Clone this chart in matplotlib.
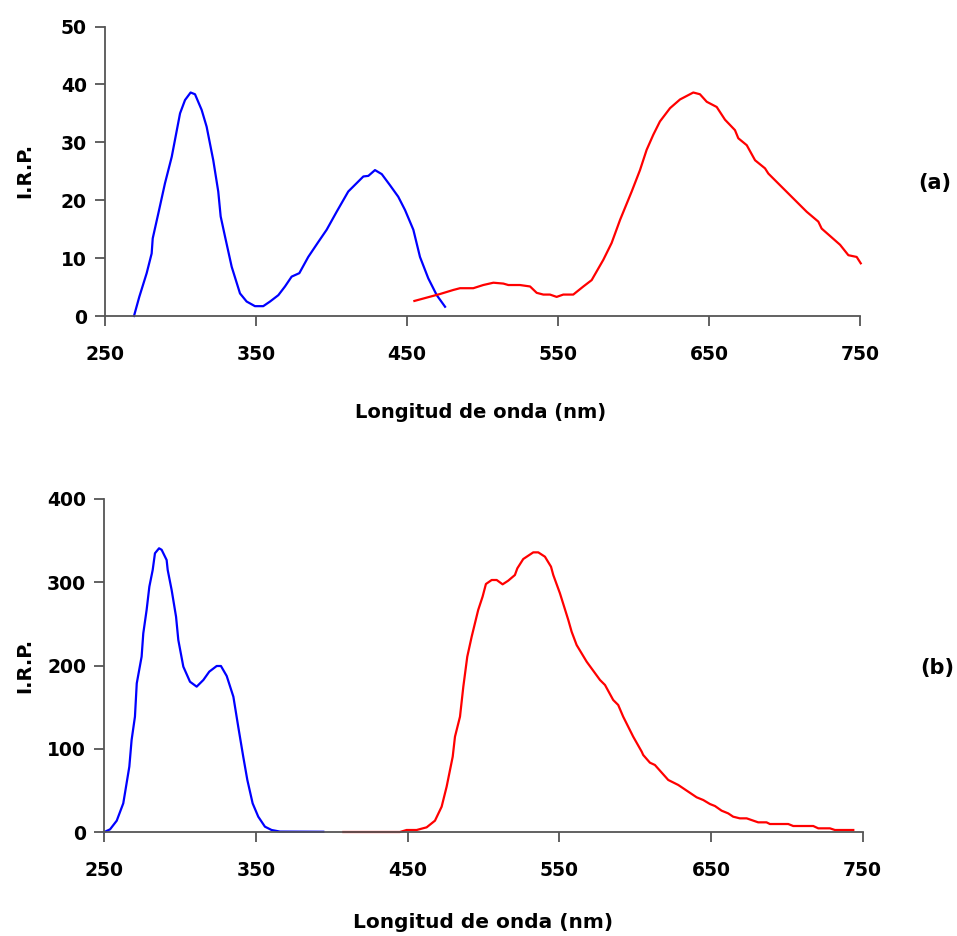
import matplotlib
matplotlib.use("Agg")
import matplotlib.pyplot as plt

# ---- Panel (a) data ----
a_blue_x = [269.2, 272.7, 277.6, 280.9, 281.6, 285.3, 289.7, 294.2, 299.7, 303.0, 306.7, 309.6,
            314.0, 317.3, 321.7, 325.0, 326.6, 329.5, 333.9, 339.4, 343.8, 349.3, 354.8, 359.3,
            364.8, 369.2, 373.6, 378.7, 384.6, 391.3, 396.8, 403.4, 411.1, 421.1, 424.4, 428.8,
            433.3, 438.7, 444.2, 448.7, 454.2, 458.6, 464.1, 469.7, 475.2]
a_blue_y = [0.0, 3.3, 7.4, 10.8, 13.4, 17.7, 22.9, 27.5, 35.0, 37.3, 38.6, 38.3,
            35.6, 32.7, 26.9, 21.5, 17.2, 13.7, 8.5, 3.9, 2.5, 1.7, 1.7, 2.5,
            3.6, 5.1, 6.8, 7.4, 10.2, 12.8, 14.9, 18.0, 21.5, 24.1, 24.2, 25.2,
            24.5, 22.6, 20.6, 18.3, 14.9, 10.2, 6.5, 3.6, 1.6]

a_red_x = [454.9, 471.9, 480.7, 485.1, 493.9, 500.5, 507.2, 513.8, 517.1, 524.8, 531.5, 535.9,
           540.3, 544.7, 549.1, 553.5, 560.1, 566.8, 572.3, 580.0, 585.5, 591.1, 598.8, 604.3,
           608.7, 613.1, 617.5, 624.2, 630.8, 639.6, 644.0, 648.5, 655.1, 660.6, 667.2, 669.4,
           675.0, 680.5, 687.1, 689.3, 714.7, 722.4, 724.6, 736.8, 742.3, 747.8, 750.5]
a_red_y = [2.6, 3.8, 4.5, 4.8, 4.8, 5.35, 5.75, 5.6, 5.35, 5.35, 5.1, 4.0,
           3.7, 3.7, 3.3, 3.7, 3.7, 5.1, 6.2, 9.7, 12.6, 16.6, 21.5, 25.2,
           28.7, 31.3, 33.6, 35.9, 37.4, 38.6, 38.3, 37.0, 36.1, 33.9, 32.1, 30.7,
           29.5, 26.9, 25.5, 24.6, 18.0, 16.3, 15.1, 12.3, 10.5, 10.2, 9.1]

# ---- Panel (b) data ----
b_blue_x = [250.0, 253.8, 258.2, 262.5, 263.6, 266.5, 268.0, 270.2, 271.4, 274.6, 275.7, 277.9,
            279.7, 281.9, 283.4, 286.1, 287.8, 291.1, 291.8, 294.4, 297.3, 298.8, 302.1, 306.5,
            310.9, 315.3, 319.2, 324.1, 326.9, 330.7, 335.1, 338.3, 341.6, 344.3, 347.8, 351.5,
            355.9, 360.3, 365.8, 394.4]
b_blue_y = [0.0, 3.2, 13.6, 34.4, 46.4, 78.5, 110.5, 138.5, 178.6, 210.6, 238.6, 266.7,
            294.7, 314.7, 334.8, 340.8, 339.0, 326.7, 314.7, 290.7, 258.6, 230.6, 198.6, 180.5,
            174.6, 182.6, 192.6, 199.4, 199.4, 187.4, 162.5, 126.5, 90.5, 62.5, 34.4, 18.4,
            6.4, 2.4, 0.5, 0.3]

b_red_x = [407.6, 444.9, 449.3, 455.9, 462.5, 468.0, 472.4, 475.7, 479.7, 481.2, 484.5, 486.7,
           489.3, 492.2, 496.5, 499.4, 501.6, 505.4, 508.7, 512.6, 516.3, 520.7, 522.3, 526.2,
           532.8, 536.1, 540.5, 544.5, 546.0, 550.4, 555.9, 558.1, 561.4, 568.0, 576.8, 580.1,
           585.5, 588.8, 592.1, 598.7, 604.3, 605.3, 609.7, 613.0, 621.8, 628.4, 640.5, 644.9,
           649.3, 652.6, 657.0, 661.3, 664.6, 669.0, 673.5, 681.1, 686.6, 688.8, 700.9, 704.2,
           717.4, 720.7, 728.4, 731.7, 743.8]
b_red_y = [0.0, 0.0, 2.4, 2.4, 5.6, 13.6, 30.4, 54.5, 90.5, 114.5, 138.5, 174.6,
           210.6, 234.6, 266.7, 282.7, 297.9, 302.7, 302.7, 297.5, 301.9, 308.7, 316.7, 327.9,
           335.9, 335.9, 330.7, 318.7, 308.7, 286.7, 254.7, 240.6, 224.6, 204.6, 182.6, 176.6,
           158.6, 152.6, 138.5, 114.5, 96.5, 92.5, 83.3, 80.5, 62.5, 56.5, 41.7, 38.4,
           33.6, 31.2, 25.6, 22.4, 18.4, 16.4, 16.4, 11.6, 11.6, 9.6, 9.6, 7.2,
           7.2, 4.4, 4.4, 2.4, 2.4]

x_ticks = [250, 350, 450, 550, 650, 750]
a_yticks = [0, 10, 20, 30, 40, 50]
b_yticks = [0, 100, 200, 300, 400]
xlabel = "Longitud de onda (nm)"
ylabel = "I.R.P."

W, H = 957, 936
FONT = "DejaVu Sans"
FS_TICK = 13.5
FS_LAB = 14
plt.rcParams['font.family'] = FONT

fig = plt.figure(figsize=(W / 100, H / 100), dpi=100)

def style(ax, yticks):
    for s in ['top', 'right']:
        ax.spines[s].set_visible(False)
    for s in ['left', 'bottom']:
        ax.spines[s].set_color('#555555')
        ax.spines[s].set_linewidth(1.3)
    ax.set_xlim(250, 750)
    ax.set_xticks(x_ticks)
    ax.set_yticks(yticks)
    ax.set_ylim(yticks[0], yticks[-1])
    ax.tick_params(direction='out', length=7, width=1.3, color='#555555', pad=14,
                   labelsize=FS_TICK)
    ax.tick_params(axis='y', pad=6)
    for lab in ax.get_xticklabels() + ax.get_yticklabels():
        lab.set_fontweight('bold')

# Panel (a)
ax1 = fig.add_axes([105 / W, (H - 316) / H, 755 / W, 289.5 / H])
ax1.plot(a_blue_x, a_blue_y, color='#0000FF', lw=1.6, clip_on=False)
ax1.plot(a_red_x, a_red_y, color='#FF0000', lw=1.6, clip_on=False)
style(ax1, a_yticks)

# Panel (b)
ax2 = fig.add_axes([104.3 / W, (H - 832) / H, 758.4 / W, 333 / H])
ax2.plot(b_blue_x, b_blue_y, color='#0000FF', lw=1.6, clip_on=False)
ax2.plot(b_red_x, b_red_y, color='#FF0000', lw=1.6, clip_on=False)
style(ax2, b_yticks)

def ftext(x, y, s, fs=FS_LAB, **kw):
    fig.text(x / W, 1 - y / H, s, fontsize=fs, fontweight='bold', ha='center', va='center', **kw)

ftext(481, 412, xlabel)
ftext(483, 922, xlabel, fs=14.5)
ftext(25, 170, ylabel, rotation=90)
ftext(25, 665, ylabel, rotation=90)
ftext(935, 183, "(a)", fs=15)
ftext(937, 668, "(b)", fs=15)

fig.savefig("out.png", dpi=100)
